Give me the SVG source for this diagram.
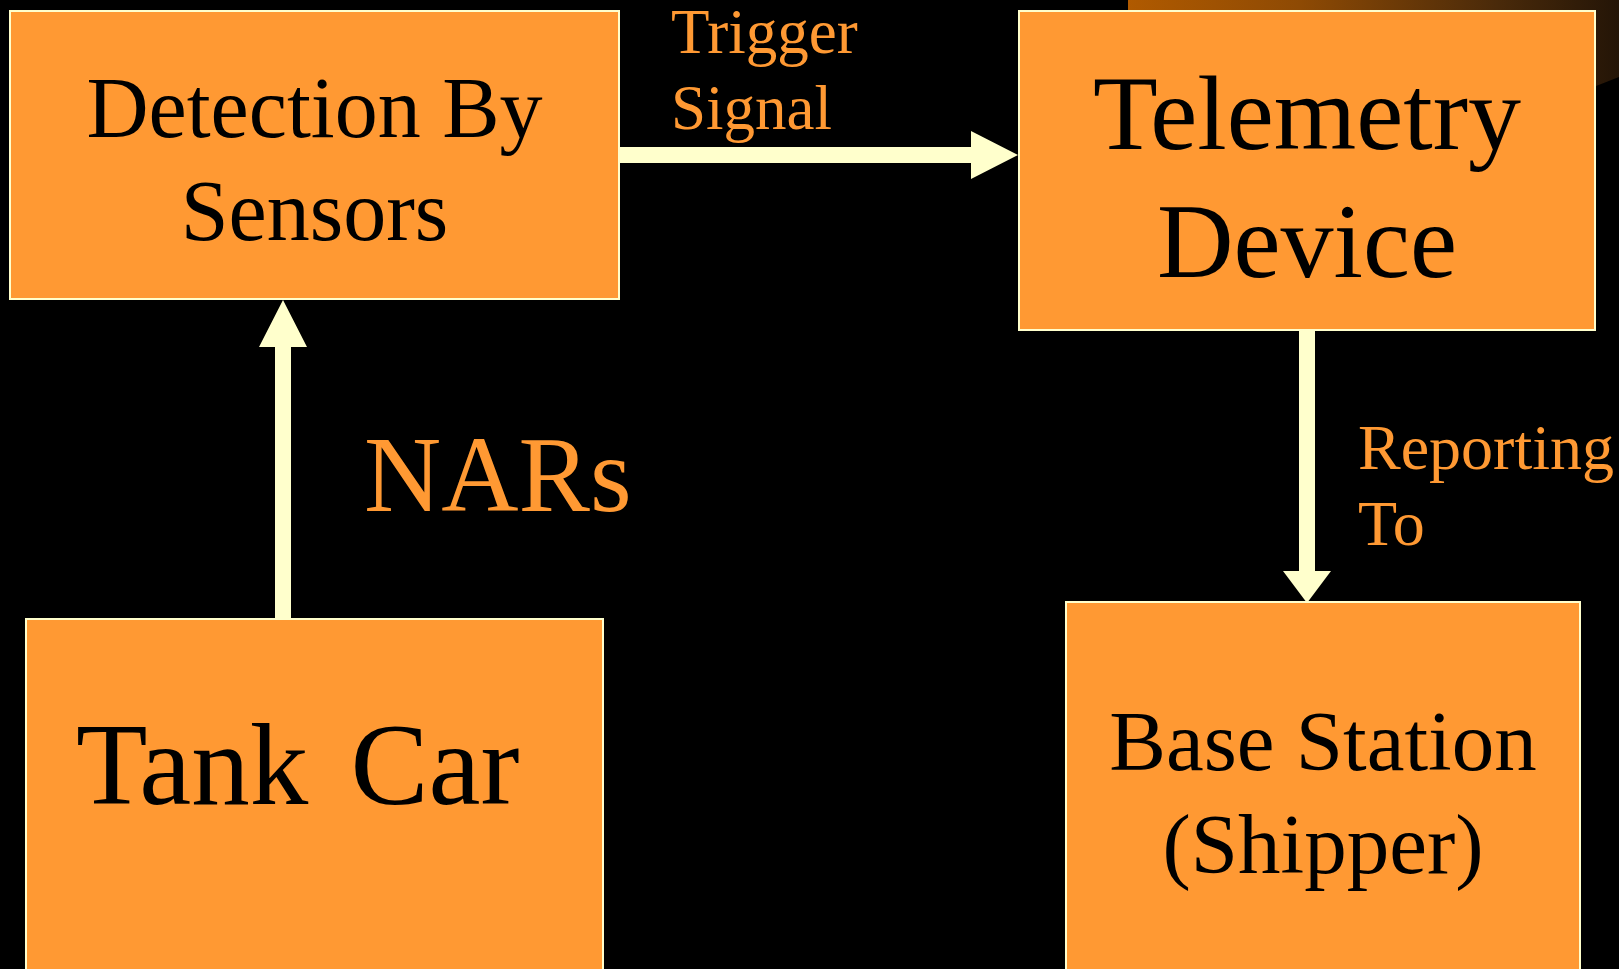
<svg xmlns="http://www.w3.org/2000/svg" width="1619" height="969" viewBox="0 0 1619 969">
  <style>
    .box { fill: #FF9933; stroke: #FFFFCC; stroke-width: 2; }
    .title { font-family: "Liberation Serif", "Times New Roman", serif; fill: #000000; text-anchor: middle; }
    .label { font-family: "Liberation Serif", "Times New Roman", serif; fill: #FF9933; }
    .arrow { fill: #FFFFCC; }
  </style>
  <defs>
    <linearGradient id="bronze" x1="0" y1="0" x2="1" y2="0">
      <stop offset="0" stop-color="#B05A00"/>
      <stop offset="0.35" stop-color="#8E4A04"/>
      <stop offset="0.75" stop-color="#4A2A0A"/>
      <stop offset="1" stop-color="#241507"/>
    </linearGradient>
  </defs>

  <!-- background -->
  <rect x="0" y="0" width="1619" height="969" fill="#000000"/>
  <!-- bronze band at the top right corner -->
  <path d="M1128 0 H1619 V77 L1596 86 H1128 Z" fill="url(#bronze)"/>

  <!-- connectors -->
  <g id="connectors">
    <!-- Tank Car -> Detection By Sensors -->
    <polygon class="arrow" points="275,619 275,347 259,347 283,300 307,347 291,347 291,619"/>
    <!-- Detection By Sensors -> Telemetry Device -->
    <polygon class="arrow" points="619,147 971,147 971,131 1018,155 971,179 971,163 619,163"/>
    <!-- Telemetry Device -> Base Station -->
    <polygon class="arrow" points="1299,331 1315,331 1315,571 1331,571 1307,603 1283,571 1299,571"/>
    <text class="label" font-size="63" x="671" y="53">Trigger</text>
    <text class="label" font-size="63" x="671" y="129">Signal</text>
    <text class="label" font-size="107" x="364" y="511">NARs</text>
    <text class="label" font-size="64" x="1358" y="469">Reporting</text>
    <text class="label" font-size="64" x="1358" y="545">To</text>
  </g>

  <g id="detection">
    <rect class="box" x="10" y="11" width="609" height="288"/>
    <text class="title" font-size="86" x="314.5" y="137">Detection By</text>
    <text class="title" font-size="86" x="314.5" y="240">Sensors</text>
  </g>

  <g id="telemetry">
    <rect class="box" x="1019" y="11" width="576" height="319"/>
    <text class="title" font-size="106" x="1307" y="149">Telemetry</text>
    <text class="title" font-size="106" x="1307" y="277">Device</text>
  </g>

  <g id="tank-car">
    <rect class="box" x="26" y="619" width="577" height="370"/>
    <text class="title" font-size="117" x="76" y="804" style="text-anchor:start" word-spacing="13">Tank Car</text>
  </g>

  <g id="base-station">
    <rect class="box" x="1066" y="602" width="514" height="390"/>
    <text class="title" font-size="85" x="1323" y="770">Base Station</text>
    <text class="title" font-size="85" x="1323" y="873">(Shipper)</text>
  </g>
</svg>
